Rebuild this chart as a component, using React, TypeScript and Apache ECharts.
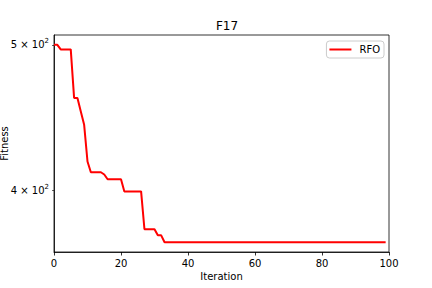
import React, { useEffect, useRef } from "react";
import * as echarts from "echarts";

const TITLE = "F17";
const SERIES_NAME = "RFO";
const X_LABEL = "Iteration";
const Y_LABEL = "Fitness";

// Fitness value per iteration (0..99)
const FITNESS: number[] = [
  500, 500, 496.5, 496.5, 496.5, 496.5, 461, 461, 451.5, 442.4,
  418.2, 411.4, 411.4, 411.4, 411.4, 410, 407, 407, 407, 407,
  407, 399.5, 399.5, 399.5, 399.5, 399.5, 399.5, 377, 377, 377,
  377, 373.5, 373.5, 369.6, 369.6, 369.6, 369.6, 369.6, 369.6, 369.6,
  369.6, 369.6, 369.6, 369.6, 369.6, 369.6, 369.6, 369.6, 369.6, 369.6,
  369.6, 369.6, 369.6, 369.6, 369.6, 369.6, 369.6, 369.6, 369.6, 369.6,
  369.6, 369.6, 369.6, 369.6, 369.6, 369.6, 369.6, 369.6, 369.6, 369.6,
  369.6, 369.6, 369.6, 369.6, 369.6, 369.6, 369.6, 369.6, 369.6, 369.6,
  369.6, 369.6, 369.6, 369.6, 369.6, 369.6, 369.6, 369.6, 369.6, 369.6,
  369.6, 369.6, 369.6, 369.6, 369.6, 369.6, 369.6, 369.6, 369.6, 369.6,
];

const X_TICKS = [0, 20, 40, 60, 80, 100];
const Y_TICKS = [400, 500];
const Y_MIN = 364.1;
const Y_MAX = 507.6;

const FONT = "DejaVu Sans";

export default function App() {
  const ref = useRef<HTMLDivElement>(null);
  useEffect(() => {
    if (!ref.current) return;
    const chart = echarts.init(ref.current, null, { renderer: "svg" });
    const data = FITNESS.map((v, i) => [i, v]);
    chart.setOption({
      animation: false,
      backgroundColor: "#ffffff",
      textStyle: { fontFamily: FONT },
      title: {
        text: TITLE,
        left: 222,
        textAlign: "center",
        top: 15,
        textStyle: { fontFamily: FONT, fontSize: 12, fontWeight: "normal", color: "#000" },
      },
      legend: {
        data: [{ name: SERIES_NAME, icon: "rect" }],
        right: 48,
        top: 41,
        orient: "vertical",
        padding: [3, 4, 3, 3],
        itemWidth: 22,
        itemHeight: 2,
        borderColor: "#cccccc",
        borderWidth: 1,
        borderRadius: 3,
        backgroundColor: "rgba(255,255,255,0.8)",
        textStyle: { fontFamily: FONT, fontSize: 10, color: "#000", lineHeight: 11, padding: [0, 0, 0, 3] },
      },
      grid: {
        left: 54,
        top: 35,
        width: 335,
        height: 217,
        show: true,
        borderColor: "#000",
        borderWidth: 0.8,
        containLabel: false,
        outerBoundsMode: "none",
      },
      xAxis: {
        type: "value",
        min: 0,
        max: 100,
        interval: 20,
        name: X_LABEL,
        nameLocation: "middle",
        nameGap: 19,
        nameMoveOverlap: false,
        nameTextStyle: { fontFamily: FONT, fontSize: 10, color: "#000" },
        axisLine: { show: true, onZero: false, lineStyle: { color: "#000", width: 0.8 } },
        axisTick: { show: true, length: 3.5, lineStyle: { color: "#000", width: 0.8 } },
        axisLabel: {
          customValues: X_TICKS,
          fontFamily: FONT,
          fontSize: 10,
          color: "#000",
          margin: 6,
        },
        splitLine: { show: false },
      },
      yAxis: {
        type: "log",
        logBase: 10,
        min: Y_MIN,
        max: Y_MAX,
        name: Y_LABEL,
        nameLocation: "middle",
        nameGap: 45,
        nameMoveOverlap: false,
        nameTextStyle: { fontFamily: FONT, fontSize: 10, color: "#000" },
        axisLine: { show: true, lineStyle: { color: "#000", width: 0.8 } },
        axisTick: { show: true, customValues: Y_TICKS, length: 2, lineStyle: { color: "#000", width: 0.6 } },
        axisLabel: {
          customValues: Y_TICKS,
          margin: 5,
          formatter: (v: number) => {
            const exp = Math.floor(Math.log10(v) + 1e-9);
            const mant = Math.round(v / Math.pow(10, exp));
            return `{b|${mant} × 10}{s|${exp}}`;
          },
          rich: {
            b: { fontFamily: FONT, fontSize: 10, color: "#000", lineHeight: 14 },
            s: { fontFamily: FONT, fontSize: 7, color: "#000", lineHeight: 8, verticalAlign: "top" },
          },
        },
        splitLine: { show: false },
        minorTick: { show: false },
      },
      series: [
        {
          name: SERIES_NAME,
          type: "line",
          data,
          symbol: "none",
          lineStyle: { color: "#ff0000", width: 2 },
          itemStyle: { color: "#ff0000" },
        },
      ],
    });
    return () => chart.dispose();
  }, []);
  return (
    <div
      ref={ref}
      style={{ position: "absolute", left: 0, top: 0, width: 432, height: 288 }}
    />
  );
}
